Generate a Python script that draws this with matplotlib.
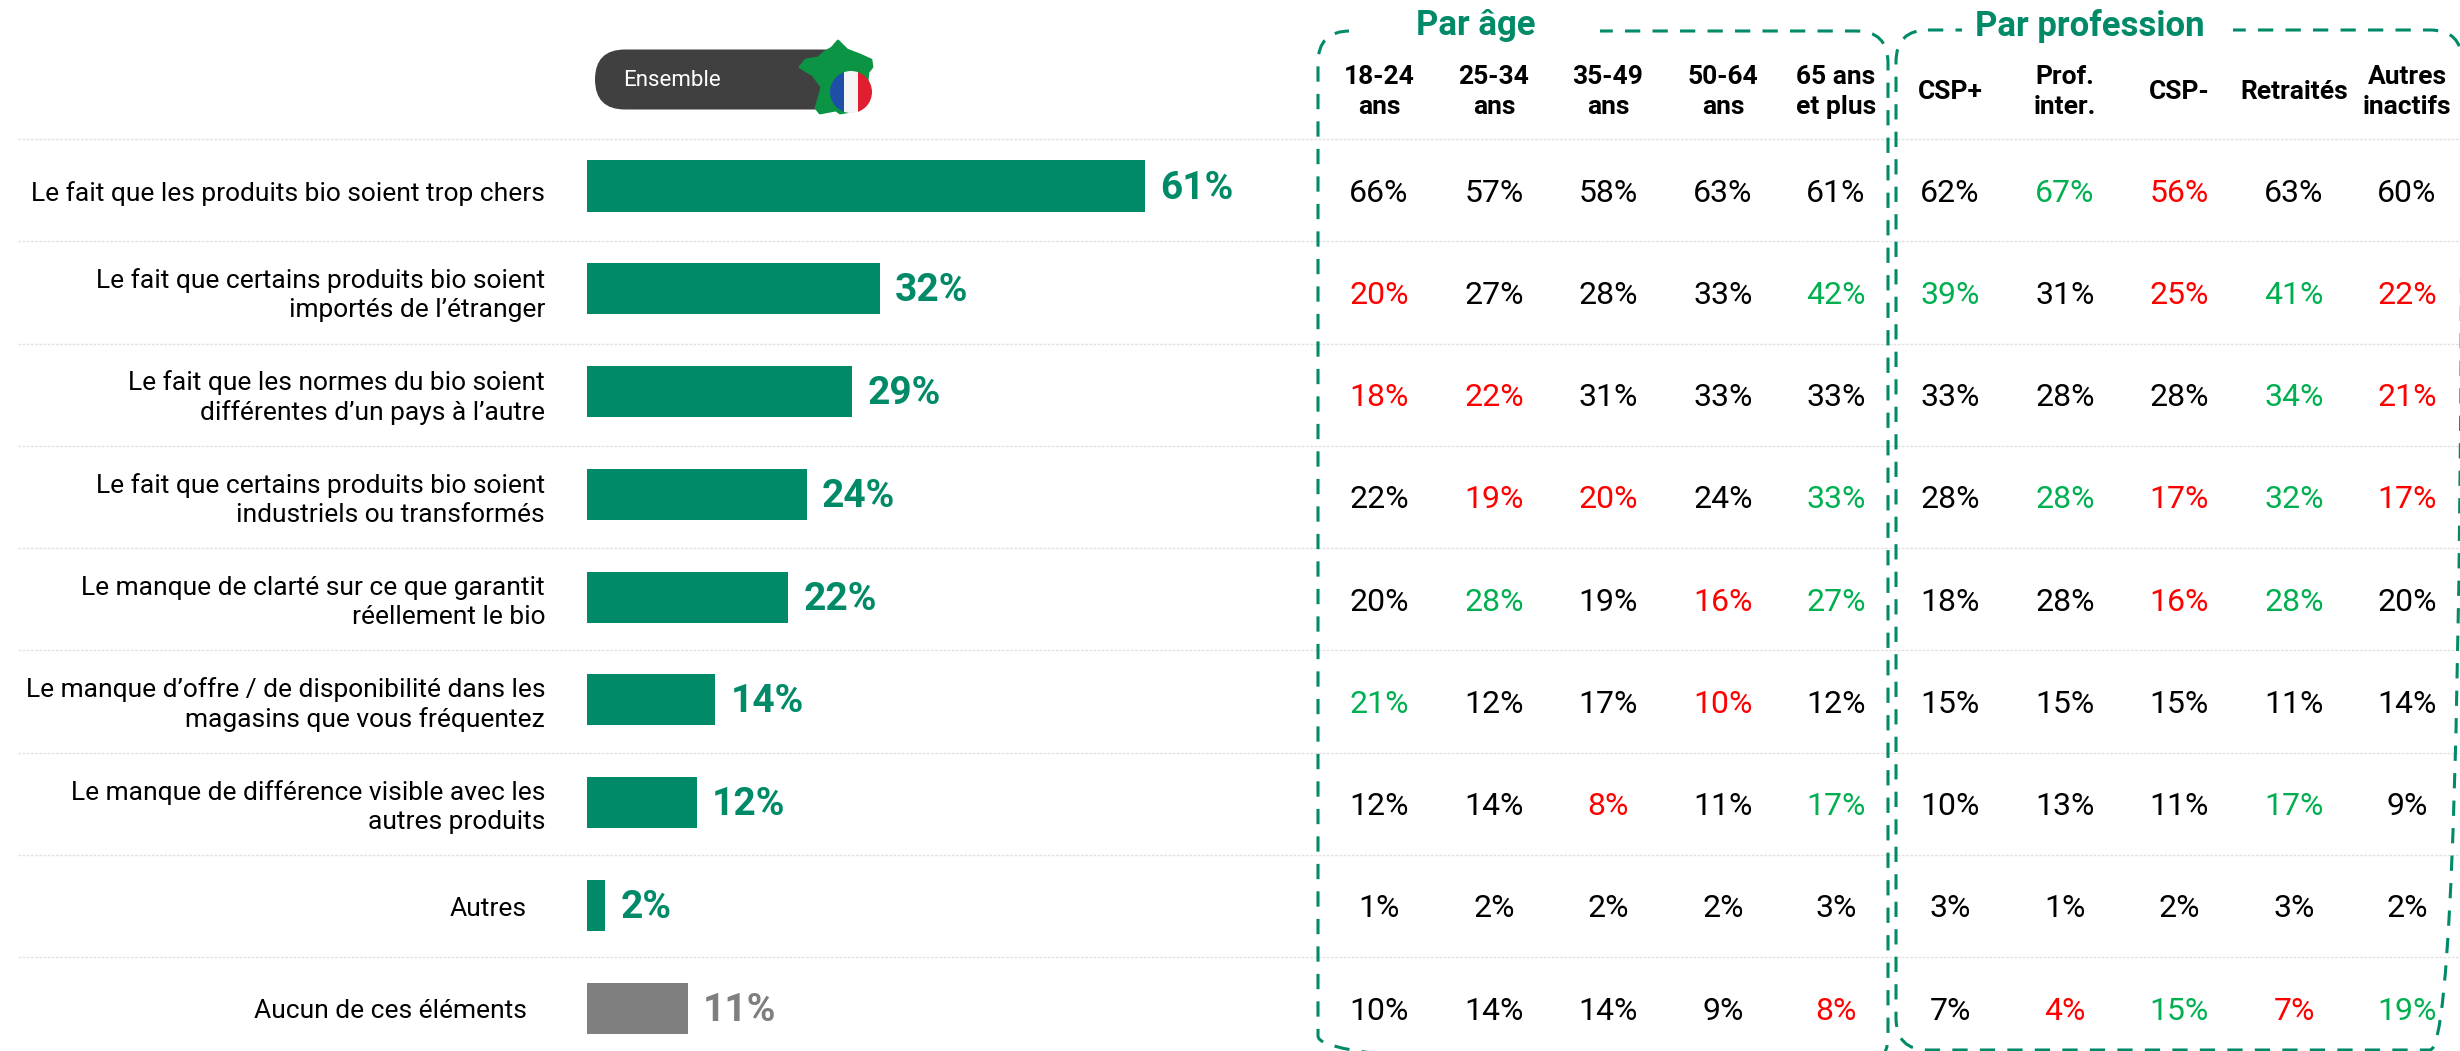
import matplotlib
matplotlib.use("Agg")
import matplotlib.pyplot as plt
from matplotlib.patches import Circle, FancyBboxPatch, Polygon, Rectangle

plt.rcParams['font.family'] = ['Roboto', 'DejaVu Sans']

labels = [
    "Le fait que les produits bio soient trop chers",
    "Le fait que certains produits bio soient\nimportés de l’étranger",
    "Le fait que les normes du bio soient\ndifférentes d’un pays à l’autre",
    "Le fait que certains produits bio soient\nindustriels ou transformés",
    "Le manque de clarté sur ce que garantit\nréellement le bio",
    "Le manque d’offre / de disponibilité dans les\nmagasins que vous fréquentez",
    "Le manque de différence visible avec les\nautres produits",
    "Autres",
    "Aucun de ces éléments",
]
overall = [61, 32, 29, 24, 22, 14, 12, 2, 11]

age_groups = ["18-24\nans", "25-34\nans", "35-49\nans", "50-64\nans", "65 ans\net plus"]
age_values = [
    [66, 57, 58, 63, 61],
    [20, 27, 28, 33, 42],
    [18, 22, 31, 33, 33],
    [22, 19, 20, 24, 33],
    [20, 28, 19, 16, 27],
    [21, 12, 17, 10, 12],
    [12, 14, 8, 11, 17],
    [1, 2, 2, 2, 3],
    [10, 14, 14, 9, 8],
]
age_flags = ["kkkkk", "rkkkg", "rrkkk", "krrkg", "kgkrg", "gkkrk", "kkrkg", "kkkkk", "kkkkr"]

prof_groups = ["CSP+", "Prof.\ninter.", "CSP-", "Retraités", "Autres\ninactifs"]
prof_values = [
    [62, 67, 56, 63, 60],
    [39, 31, 25, 41, 22],
    [33, 28, 28, 34, 21],
    [28, 28, 17, 32, 17],
    [18, 28, 16, 28, 20],
    [15, 15, 15, 11, 14],
    [10, 13, 11, 17, 9],
    [3, 1, 2, 3, 2],
    [7, 4, 15, 7, 19],
]
prof_flags = ["kgrkk", "gkrgr", "kkkgr", "kgrgr", "kkrgk", "kkkkk", "kkkgk", "kkkkk", "krgrg"]

W, H = 2460, 1051
GREEN = "#008A68"
GREY = "#7F7F7F"
FLAG_COLORS = {"k": "#000000", "g": "#00B050", "r": "#FF0000"}
ROW_TOP = 139
ROW_H = 102.25
age_x = [1379, 1494, 1608, 1723, 1836]
prof_x = [1950, 2065, 2179, 2294, 2407]

fig = plt.figure(figsize=(W / 100, H / 100), dpi=100, facecolor="white")

# page layer in pixel coordinates
ax = fig.add_axes([0, 0, 1, 1])
ax.set_xlim(0, W)
ax.set_ylim(H, 0)
ax.axis("off")

# bars in their own axes, x in percent
bar_left, bar_right = 587, 1245
ax_bar = fig.add_axes([bar_left / W, 1 - (ROW_TOP + 9 * ROW_H) / H,
                       (bar_right - bar_left) / W, 9 * ROW_H / H])
ax_bar.set_xlim(0, (bar_right - bar_left) / 9.15)
ax_bar.set_ylim(9, 0)
ax_bar.axis("off")

# the bars run on a slightly wider pitch than the table rows
bar_y = [0.46 + i * 1.005 for i in range(len(overall))]
bar_colors = [GREEN] * 8 + [GREY]
ax_bar.barh(bar_y, overall, height=0.5, color=bar_colors)
for y, v, c in zip(bar_y, overall, bar_colors):
    ax_bar.annotate(f"{v}%", (v, y), xytext=(11, -1.5), textcoords="offset points",
                    ha="left", va="center", fontsize=28, fontweight="bold", color=c)

# separators
for i in range(9):
    y = ROW_TOP + i * ROW_H
    ax.plot([18, W], [y, y], color="#E2E2E2", lw=1, ls=(0, (2, 1)), zorder=0)

# row labels and table cells
for i, lab in enumerate(labels):
    cy = ROW_TOP + (i + 0.5) * ROW_H + 3
    right = 527 if i >= 7 else 545
    ax.text(right, cy, lab, ha="right", va="center", fontsize=19, linespacing=1.27, color="black")
    for xs, vals, flags in ((age_x, age_values, age_flags), (prof_x, prof_values, prof_flags)):
        for x, v, f in zip(xs, vals[i], flags[i]):
            ax.text(x, cy, f"{v}%", ha="center", va="center", fontsize=23, color=FLAG_COLORS[f])

# column headers
for xs, groups in ((age_x, age_groups), (prof_x, prof_groups)):
    for x, g in zip(xs, groups):
        ax.text(x, 92, g, ha="center", va="center", fontsize=19, fontweight="bold",
                linespacing=1.3, color="black")

# dashed frames
for x0, x1, y0, y1 in ((1318, 1888, 31, 1068), (1896, 2462, 30, 1050)):
    ax.add_patch(FancyBboxPatch((x0 + 32, y0 + 32), x1 - x0 - 64, y1 - y0 - 64,
                                boxstyle="round,pad=32,rounding_size=32",
                                fill=False, ec=GREEN, lw=2.2, ls=(0, (5, 4)), zorder=2,
                                clip_on=False))

# gaps in the frame tops behind the titles
ax.add_patch(Rectangle((1349, 20), 251, 24, fc="white", ec="none", zorder=2.5))
ax.add_patch(Rectangle((1962, 20), 271, 24, fc="white", ec="none", zorder=2.5))
ax.text(1476, 26, "Par âge", ha="center", va="center", fontsize=25, fontweight="bold",
        color=GREEN, zorder=3)
ax.text(2090, 26, "Par profession", ha="center", va="center", fontsize=25, fontweight="bold",
        color=GREEN, zorder=3)

# "Ensemble" pill with the map and flag badge
ax.add_patch(FancyBboxPatch((625, 79.5), 200, 0, boxstyle="round,pad=30,rounding_size=30",
                            fc="#404040", ec="none", zorder=2))
ax.text(623, 80, "Ensemble", ha="left", va="center", fontsize=16, color="white", zorder=3)
france = [(838, 41), (847, 50), (860, 55), (871, 60), (872, 67), (868, 72), (867, 82), (862, 100),
          (858, 110), (840, 113), (836, 110), (820, 113), (816, 108), (822, 87), (813, 75), (800, 67),
          (806, 60), (818, 58), (825, 52), (832, 48)]
ax.add_patch(Polygon(france, closed=True, fc="#0B9443", ec="#0B9443", lw=2, joinstyle="round", zorder=4))
badge = Circle((851, 92), 21, transform=ax.transData)
for x0, w, c in ((830, 14, "#1E4FA8"), (844, 14, "#F5F5F5"), (858, 14, "#E01E2F")):
    r = Rectangle((x0, 71), w, 42, fc=c, ec="none", zorder=5)
    ax.add_patch(r)
    r.set_clip_path(badge)

fig.savefig("out.png", dpi=100, facecolor="white")
